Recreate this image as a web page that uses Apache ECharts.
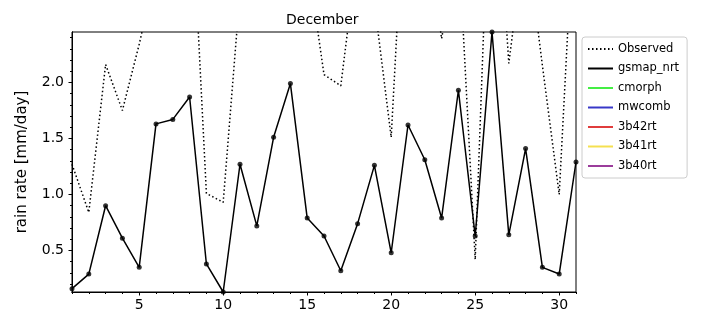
<!DOCTYPE html>
<html>
<head>
<meta charset="utf-8">
<script src="https://cdn.jsdelivr.net/npm/echarts@6/dist/echarts.min.js"></script>
<style>
  html, body { margin: 0; padding: 0; background: #fff; }
  #chart { width: 720px; height: 324px; }
</style>
</head>
<body>
<div id="chart"></div>
<script>
// days of December
const days = [1, 2, 3, 4, 5, 6, 7, 8, 9, 10, 11, 12, 13, 14, 15, 16,
  17, 18, 19, 20, 21, 22, 23, 24, 25, 26, 27, 28, 29, 30, 31]

// observed rain rate (many values run off the top of the plot)
const observed = [1.27, 0.84, 2.16, 1.75, 2.34, 3.0, 3.5, 4.0, 1.01, 0.93,
  2.81, 3.6, 4.2, 3.8, 3.12, 2.07, 1.97, 3.18, 2.71, 1.51,
  4.31, 3.5, 2.39, 3.28, 0.42, 4.5, 2.17, 3.35, 2.15, 1.0, 3.87]

const gsmapNrt = [0.16, 0.29, 0.90, 0.61, 0.35, 1.63, 1.67, 1.87, 0.38, 0.13,
  1.27, 0.72, 1.51, 1.99, 0.79, 0.63, 0.32, 0.74, 1.26, 0.48,
  1.62, 1.31, 0.79, 1.93, 0.63, 2.45, 0.64, 1.41, 0.35, 0.29, 1.29]

// no values for these products this month
const cmorph = []
const mwcomb = []
const b42rt = []
const b41rt = []
const b40rt = []

const yLabels = [0.5, 1.0, 1.5, 2.0]
const xLabels = [5, 10, 15, 20, 25, 30]
const yMin = 0.13
const yMax = 2.45

const yMinor = []
for (let v = 2; v <= 24; v++) yMinor.push(v / 10)

const pairs = arr => arr.map((v, i) => [days[i], v])

const font = 'DejaVu Sans'
const chart = echarts.init(document.getElementById('chart'))

const axisBase = {
  type: 'value',
  axisLine: { show: true, lineStyle: { color: '#000', width: 1 } },
  splitLine: { show: false }
}

chart.setOption({
  animation: false,
  title: {
    text: 'December',
    left: 281,
    top: 8,
    textStyle: { fontFamily: font, fontSize: 14, fontWeight: 'normal', color: '#000' }
  },
  grid: {
    left: 72,
    right: 144,
    top: 32,
    bottom: 32,
    show: true,
    borderColor: '#000',
    borderWidth: 1
  },
  legend: {
    orient: 'vertical',
    left: 582,
    top: 37,
    padding: [6, 8, 6, 5],
    itemWidth: 25,
    itemHeight: 12,
    itemGap: 7.5,
    itemTextGap: 10,
    backgroundColor: '#fff',
    borderColor: '#ccc',
    borderWidth: 1,
    borderRadius: 3,
    itemStyle: { opacity: 0 },
    lineStyle: { width: 2 },
    textStyle: { fontFamily: font, fontSize: 11.5, color: '#000', lineHeight: 12 },
    data: ['Observed', 'gsmap_nrt', 'cmorph', 'mwcomb', '3b42rt', '3b41rt', '3b40rt']
  },
  xAxis: [
    Object.assign({}, axisBase, {
      min: 1,
      max: 31,
      axisTick: { show: true, length: 3.5, customValues: xLabels, lineStyle: { color: '#000' } },
      axisLabel: {
        customValues: xLabels,
        margin: 6,
        fontFamily: font,
        fontSize: 14,
        color: '#000'
      }
    }),
    Object.assign({}, axisBase, {
      min: 1,
      max: 31,
      position: 'bottom',
      axisTick: { show: true, length: 2, customValues: days, lineStyle: { color: '#000' } },
      axisLabel: { show: false }
    })
  ],
  yAxis: [
    Object.assign({}, axisBase, {
      min: yMin,
      max: yMax,
      name: 'rain rate [mm/day]',
      nameLocation: 'middle',
      nameGap: 42,
      nameRotate: 90,
      nameTextStyle: { fontFamily: font, fontSize: 15, color: '#000' },
      axisTick: { show: true, length: 3.5, customValues: yLabels, lineStyle: { color: '#000' } },
      axisLabel: {
        customValues: yLabels,
        margin: 8,
        fontFamily: font,
        fontSize: 14,
        color: '#000',
        formatter: v => v.toFixed(1)
      }
    }),
    Object.assign({}, axisBase, {
      min: yMin,
      max: yMax,
      position: 'left',
      axisTick: { show: true, length: 2, customValues: yMinor, lineStyle: { color: '#000' } },
      axisLabel: { show: false }
    })
  ],
  series: [
    {
      name: 'Observed',
      type: 'line',
      data: pairs(observed),
      symbol: 'none',
      color: '#000',
      lineStyle: { color: '#000', width: 1.5, type: [1.5, 2.5] },
      clip: true
    },
    {
      name: 'gsmap_nrt',
      type: 'line',
      data: pairs(gsmapNrt),
      symbol: 'none',
      color: '#000',
      lineStyle: { color: '#000', width: 1.5 },
      clip: true
    },
    {
      name: 'gsmap_pts',
      type: 'scatter',
      data: pairs(gsmapNrt),
      symbol: 'circle',
      symbolSize: 5,
      itemStyle: { color: '#000' },
      clip: false
    },
    { name: 'cmorph', type: 'line', data: pairs(cmorph), symbol: 'none', color: '#44ee44', lineStyle: { width: 2 } },
    { name: 'mwcomb', type: 'line', data: pairs(mwcomb), symbol: 'none', color: '#3838c8', lineStyle: { width: 2 } },
    { name: '3b42rt', type: 'line', data: pairs(b42rt), symbol: 'none', color: '#e03c3c', lineStyle: { width: 2 } },
    { name: '3b41rt', type: 'line', data: pairs(b41rt), symbol: 'none', color: '#f5e050', lineStyle: { width: 2 } },
    { name: '3b40rt', type: 'line', data: pairs(b40rt), symbol: 'none', color: '#9b3c9b', lineStyle: { width: 2 } }
  ]
})
</script>
</body>
</html>
